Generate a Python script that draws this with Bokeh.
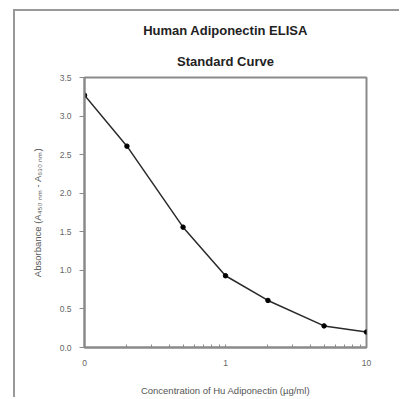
from bokeh.plotting import figure
from bokeh.models import FixedTicker, Title, ColumnDataSource, Range1d, NumeralTickFormatter
from bokeh.embed import file_html
from bokeh.resources import INLINE

concentration = [0.1, 0.2, 0.5, 1.0, 2.0, 5.0, 10.0]
absorbance = [3.27, 2.61, 1.56, 0.93, 0.61, 0.28, 0.20]
x_ticks = [0.1, 1, 10]
x_tick_labels = {0.1: "0", 1: "1", 10: "10"}
x_minor = [0.2, 0.3, 0.4, 0.5, 0.6, 0.7, 0.8, 0.9, 2, 3, 4, 5, 6, 7, 8, 9]
y_ticks = [0.0, 0.5, 1.0, 1.5, 2.0, 2.5, 3.0, 3.5]

src = ColumnDataSource(dict(x=concentration, y=absorbance))

FONT = "Liberation Sans"
GRAY = "#8a8a8a"

p = figure(width=386, height=388, x_axis_type="log",
           x_range=Range1d(0.1, 10), y_range=Range1d(0, 3.5),
           output_backend="svg", toolbar_location=None,
           min_border_left=69, min_border_right=35,
           min_border_top=66, min_border_bottom=52)
p.styles = {"margin-left": "13px", "margin-top": "9px",
            "border-left": "2px solid #999", "border-top": "2px solid #999"}
p.background_fill_color = "white"
p.border_fill_color = "white"
p.outline_line_color = GRAY
p.outline_line_width = 2
p.grid.visible = False

p.line("x", "y", source=src, line_color="#2a2a2a", line_width=1.5)
p.scatter("x", "y", source=src, size=4.5, color="black")

p.xaxis.ticker = FixedTicker(ticks=x_ticks, minor_ticks=x_minor)
p.xaxis.major_label_overrides = x_tick_labels
p.yaxis.ticker = FixedTicker(ticks=y_ticks)
p.yaxis.formatter = NumeralTickFormatter(format="0.0")

for ax in (p.xaxis[0], p.yaxis[0]):
    ax.axis_line_color = GRAY
    ax.axis_line_width = 2
    ax.major_tick_line_color = GRAY
    ax.minor_tick_line_color = GRAY
    ax.major_label_text_font = FONT
    ax.major_label_text_font_size = "8.5px"
    ax.major_label_text_color = "#666666"
    ax.axis_label_text_font = FONT
    ax.axis_label_text_font_style = "normal"
    ax.axis_label_text_font_size = "9.5px"
    ax.axis_label_text_color = "#555555"

p.xaxis.major_tick_in = 3
p.xaxis.major_tick_out = 0
p.xaxis.minor_tick_in = 3
p.xaxis.minor_tick_out = 0
p.xaxis.major_label_standoff = 12
p.xaxis.axis_label = "Concentration of Hu Adiponectin (µg/ml)"
p.xaxis.axis_label_standoff = 16

p.yaxis.major_tick_in = 0
p.yaxis.major_tick_out = 5
p.yaxis.minor_tick_line_color = None
p.yaxis.major_label_standoff = 8
p.yaxis.axis_label = "Absorbance (A₄₅₀ ₙₘ - A₆₃₀ ₙₘ)"
p.yaxis.axis_label_standoff = 14

sub = Title(text="Standard Curve", align="center", offset=-13,
            text_font=FONT, text_font_size="13px", text_font_style="bold",
            text_color="#222222", standoff=17)
main = Title(text="Human Adiponectin ELISA", align="center", offset=-13,
             text_font=FONT, text_font_size="13px", text_font_style="bold",
             text_color="#222222", standoff=11)
p.add_layout(sub, "above")
p.add_layout(main, "above")

open("out.html", "w").write(file_html(p, INLINE))
